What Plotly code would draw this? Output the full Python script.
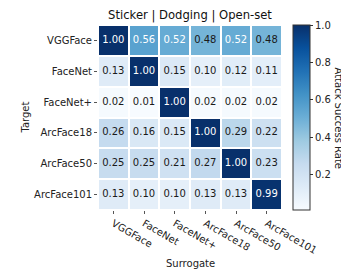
import plotly.graph_objects as go

models = ["VGGFace", "FaceNet", "FaceNet+", "ArcFace18", "ArcFace50", "ArcFace101"]
targets = models
surrogates = models
values = [
    [1.00, 0.56, 0.52, 0.48, 0.52, 0.48],
    [0.13, 1.00, 0.15, 0.10, 0.12, 0.11],
    [0.02, 0.01, 1.00, 0.02, 0.02, 0.02],
    [0.26, 0.16, 0.15, 1.00, 0.29, 0.22],
    [0.25, 0.25, 0.21, 0.27, 1.00, 0.23],
    [0.13, 0.10, 0.10, 0.13, 0.13, 0.99],
]
cbar_ticks = [0.2, 0.4, 0.6, 0.8, 1.0]

blues = [
    [0.0, "#f7fbff"], [0.125, "#deebf7"], [0.25, "#c6dbef"], [0.375, "#9ecae1"],
    [0.5, "#6baed6"], [0.625, "#4292c6"], [0.75, "#2171b5"], [0.875, "#08519c"],
    [1.0, "#08306b"],
]

FONT = "DejaVu Sans"
zmin, zmax = 0.01, 1.0
OFF = 8  # default page body margin
W, H = 349 - OFF, 279 - OFF
L, T = 98 - OFF, 25 - OFF
R, B = W - (282 - OFF), H - (210 - OFF)
PW, PH = W - L - R, H - T - B

def px_x(sx):
    return (sx - OFF - L) / PW

def px_y(sy):
    return (H - B - (sy - OFF)) / PH

fig = go.Figure()
fig.add_trace(go.Heatmap(
    z=values, x=surrogates, y=targets,
    colorscale=blues, zmin=zmin, zmax=zmax,
    xgap=2, ygap=2, showscale=True, hoverinfo="skip",
    colorbar=dict(
        x=1.0, xanchor="left", xpad=11, y=0.5, yanchor="middle",
        len=1.0, lenmode="fraction", thickness=17, ypad=0,
        outlinecolor="#333333", outlinewidth=1,
        tickvals=cbar_ticks, ticktext=[f"{t:.1f}" for t in cbar_ticks],
        ticks="outside", ticklen=3, tickcolor="#333", tickfont=dict(size=10, family=FONT, color="#222"),
    ),
))

xs, ys, txt, cols = [], [], [], []
for i, t in enumerate(targets):
    for j, s in enumerate(surrogates):
        v = values[i][j]
        xs.append(s); ys.append(t); txt.append(f"{v:.2f}")
        cols.append("white" if v > 0.5 else "#1a1a1a")
fig.add_trace(go.Scatter(
    x=xs, y=ys, mode="text", text=txt,
    textfont=dict(color=cols, size=10, family=FONT),
    hoverinfo="skip", showlegend=False, cliponaxis=False,
))

axis_font = dict(size=10, family=FONT, color="#222")
fig.add_annotation(text="Surrogate", xref="paper", yref="paper", x=0.5, y=px_y(263),
                   xanchor="center", yanchor="middle", showarrow=False, font=axis_font)
fig.add_annotation(text="Target", xref="paper", yref="paper", x=px_x(25), y=0.5,
                   xanchor="center", yanchor="middle", showarrow=False, textangle=-90, font=axis_font)
fig.add_annotation(text="Attack Success Rate", xref="paper", yref="paper", x=px_x(338), y=0.5,
                   xanchor="center", yanchor="middle", showarrow=False, textangle=90, font=axis_font)

fig.update_layout(
    width=W, height=H,
    margin=dict(l=L, r=R, t=T, b=B, autoexpand=False),
    paper_bgcolor="white", plot_bgcolor="white",
    title=dict(text="Sticker | Dodging | Open-set", x=(L + PW / 2) / W, xanchor="center",
               y=1 - (15 - OFF) / H, yanchor="middle", font=dict(size=11.6, family=FONT, color="#111")),
    xaxis=dict(
        range=[-0.5, len(surrogates) - 0.5], autorange=False,
        tickangle=30, ticks="outside", ticklen=3, tickcolor="#555", automargin=False,
        tickfont=dict(size=10, family=FONT, color="#222"), showgrid=False, zeroline=False,
        showline=False,
    ),
    yaxis=dict(
        range=[len(targets) - 0.5, -0.5], autorange=False,
        ticks="outside", ticklen=3, tickcolor="#555", automargin=False,
        tickfont=dict(size=10, family=FONT, color="#222"), showgrid=False, zeroline=False,
        showline=False,
    ),
    font=dict(family=FONT),
)

fig.write_html("out.html")
